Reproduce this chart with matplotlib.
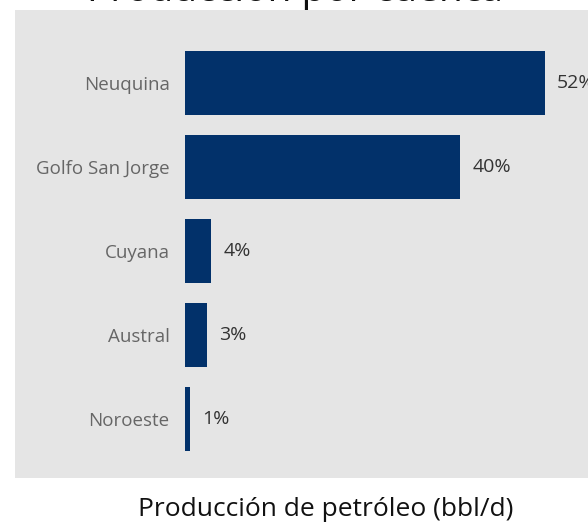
import numpy as np
import matplotlib
matplotlib.use("Agg")
from matplotlib import pyplot as plt

basins = ["Neuquina", "Golfo San Jorge", "Cuyana", "Austral", "Noroeste"]
share = [52.3, 40.0, 3.8, 3.2, 0.7]
title = "Producción por cuenca"
xlabel = "Producción de petróleo (bbl/d)"

W, H = 588, 522
plt.rcParams['font.family'] = ['Open Sans', 'DejaVu Sans']

fig = plt.figure(figsize=(W / 100, H / 100), dpi=100)


def px(x0, y0, x1, y1):
    # pixel box (top-left origin) -> figure fraction rect
    return [x0 / W, 1 - y1 / H, (x1 - x0) / W, (y1 - y0) / H]


# grey panel behind the chart
bg = fig.add_axes(px(15, 10, 588, 478), zorder=0)
bg.set_facecolor('#e5e5e5')
bg.set_xticks([])
bg.set_yticks([])
for s in bg.spines.values():
    s.set_visible(False)

ax = fig.add_axes(px(185, 10, 588, 478), zorder=1)
ax.set_facecolor('none')
y = np.arange(len(basins))
ax.barh(y, share, height=0.76, color='#02316a')
ax.set_xlim(0, 52.3 * 403 / 360)
ax.set_ylim(4 + 59 / 84, -73 / 84)
ax.set_yticks(y)
ax.set_yticklabels(basins, fontsize=13.5, color='#666666')
ax.tick_params(axis='y', length=0, pad=11)
ax.set_xticks([])
for s in ax.spines.values():
    s.set_visible(False)

for yi, v in zip(y, share):
    ax.text(v + 1.75, yi, '{:.0f}%'.format(v), va='center', ha='left',
            fontsize=14, color='#333333')

fig.text(326 / W, 1 - 509 / H, xlabel, ha='center', va='center', fontsize=19, color='#111111')
# title sits mostly above the canvas, only its lower edge shows
fig.text(295 / W, 1 - 0.8 / H, title, ha='center', va='baseline', fontsize=28, color='#111111')

fig.savefig('out.png', dpi=100)
